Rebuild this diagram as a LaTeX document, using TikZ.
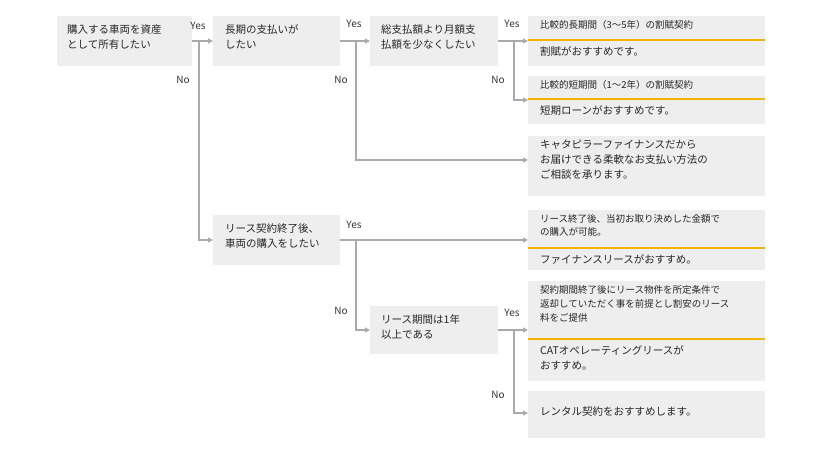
\documentclass[tikz,border=0pt]{standalone}
\usepackage{fontspec}
\setmainfont{Noto Sans CJK JP}
\usetikzlibrary{arrows.meta}
\definecolor{bx}{HTML}{EEEEEE}
\definecolor{ln}{HTML}{AAAAAA}
\definecolor{yl}{HTML}{F5B400}
\begin{document}
\begin{tikzpicture}[x=1pt,y=-1pt,
  q/.style={fill=bx,draw=none,anchor=north west,inner sep=0pt},
  tx/.style={anchor=north west,font=\fontsize{10.5}{15}\selectfont,align=left,inner sep=0pt,text=black!85},
  con/.style={draw=ln,line width=1.2pt,-{Triangle[width=5pt,length=5pt]}},
  yn/.style={font=\fontsize{10}{12}\selectfont,text=black!80},
  yline/.style={draw=yl,line width=1.2pt}]
\useasboundingbox (0,0) rectangle (820,457);
% boxes
\node[q,minimum width=135,minimum height=50] (b1) at (57,16) {};
\node[tx] at (67,24) {購入する車両を資産\\として所有したい};
\node[q,minimum width=127,minimum height=50] (b2) at (213,16) {};
\node[tx] at (225,24) {長期の支払いが\\したい};
\node[q,minimum width=128,minimum height=50] (b3) at (370,16) {};
\node[tx] at (381,24) {総支払額より月額支\\払額を少なくしたい};
\node[q,minimum width=127,minimum height=50] (b4) at (213,215) {};
\node[tx] at (225,223) {リース契約終了後、\\車両の購入をしたい};
\node[q,minimum width=128,minimum height=48] (b5) at (370,306) {};
\node[tx] at (381,314) {リース期間は1年\\以上である};
% results
\node[q,minimum width=237,minimum height=50] (r1) at (528,16) {};
\node[tx,font=\fontsize{9.5}{13}\selectfont] at (540,20) {比較的長期間（3～5年）の割賦契約};
\draw[yline] (528,40) -- (765,40);
\node[tx] at (540,46) {割賦がおすすめです。};
\node[q,minimum width=237,minimum height=48] (r2) at (528,76) {};
\node[tx,font=\fontsize{9.5}{13}\selectfont] at (540,80) {比較的短期間（1～2年）の割賦契約};
\draw[yline] (528,99) -- (765,99);
\node[tx] at (540,105) {短期ローンがおすすめです。};
\node[q,minimum width=237,minimum height=60] (r3) at (528,136) {};
\node[tx] at (540,140) {キャタピラーファイナンスだから\\お届けできる柔軟なお支払い方法の\\ご相談を承ります。};
\node[q,minimum width=237,minimum height=60] (r4) at (528,210) {};
\node[tx,font=\fontsize{9.5}{13}\selectfont] at (540,214) {リース終了後、当初お取り決めした金額で\\の購入が可能。};
\draw[yline] (528,248) -- (765,248);
\node[tx] at (540,254) {ファイナンスリースがおすすめ。};
\node[q,minimum width=237,minimum height=100] (r5) at (528,281) {};
\node[tx,font=\fontsize{9.5}{14}\selectfont] at (540,285) {契約期間終了後にリース物件を所定条件で\\返却していただく事を前提とし割安のリース\\料をご提供};
\draw[yline] (528,339) -- (765,339);
\node[tx] at (540,345) {CATオペレーティングリースが\\おすすめ。};
\node[q,minimum width=237,minimum height=47] (r6) at (528,391) {};
\node[tx] at (540,406) {レンタル契約をおすすめします。};
% connectors
\coordinate (j1) at (199,41);
\coordinate (j2) at (356,41);
\coordinate (j3) at (514,41);
\coordinate (j4) at (356,240);
\coordinate (j5) at (514,330);
\draw[con] (b1.east |- j1) -- (b2.west |- j1);
\draw[con] (j1) |- (b4.west |- j4);
\draw[con] (b2.east |- j2) -- (b3.west |- j2);
\draw[con] (j2) |- (r3.west |- 0,160);
\draw[con] (b3.east |- j3) -- (r1.west |- j3);
\draw[con] (j3) |- (r2.west |- 0,100);
\draw[con] (b4.east |- j4) -- (r4.west |- j4);
\draw[con] (j4) |- (b5.west |- j5);
\draw[con] (b5.east |- j5) -- (r5.west |- j5);
\draw[con] (j5) |- (r6.west |- 0,413);
% labels
\node[yn] at (198,26) {Yes};
\node[yn] at (183,80) {No};
\node[yn] at (354,24) {Yes};
\node[yn] at (341,80) {No};
\node[yn] at (512,24) {Yes};
\node[yn] at (498,80) {No};
\node[yn] at (354,225) {Yes};
\node[yn] at (341,311) {No};
\node[yn] at (512,313) {Yes};
\node[yn] at (498,395) {No};
\end{tikzpicture}
\end{document}
